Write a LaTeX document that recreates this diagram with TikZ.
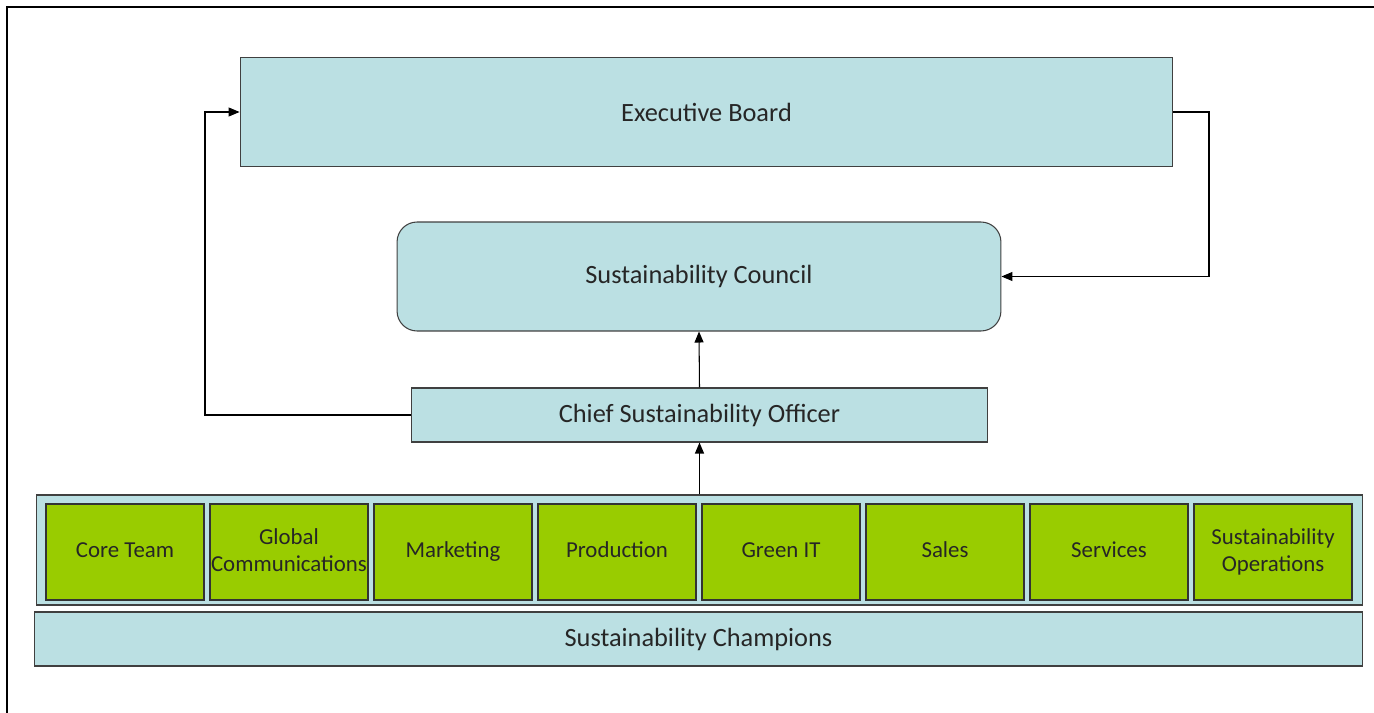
\documentclass[tikz,border=0pt]{standalone}
\usepackage{fontspec}
\setmainfont{Carlito}
\usetikzlibrary{arrows.meta,positioning}
\definecolor{paleblue}{HTML}{BBE0E3}
\definecolor{leafgreen}{HTML}{99CC00}

\begin{document}
\begin{tikzpicture}
    [
        x=0.02cm, y=-0.02cm,
        frameLine/.style={black,line width=1.6pt},
        bluebox/.style={draw=black!75,fill=paleblue,line width=0.6pt,text=black!85,
            font=\fontsize{15}{18}\selectfont,inner sep=0pt},
        greenbox/.style={draw=black!80,fill=leafgreen,line width=0.6pt,text=black!85,
            font=\fontsize{13}{15}\selectfont,align=center,inner sep=0pt,
            minimum width=3.16cm,minimum height=1.92cm},
        link/.style={black,line width=0.6pt,-{Triangle[length=0.22cm,width=0.18cm]}}
    ]
    \useasboundingbox (0,0) rectangle (1374,713);
    % frame of the screenshot
    \draw[frameLine] (7,713) -- (7,7) -- (1374,7);

    \node[bluebox, minimum width=18.66cm, minimum height=2.18cm] (board) at (706.5,112) {Executive Board};
    \node[bluebox, rounded corners=0.4cm, minimum width=12.08cm, minimum height=2.18cm] (council) at (699,276.5) {Sustainability Council};
    \node[bluebox, minimum width=11.54cm, minimum height=1.08cm] (cso) at (699.5,415) {Chief Sustainability Officer};
    \node[bluebox, minimum width=26.54cm, minimum height=2.2cm] (group) at (699.5,550) {};
    \node[bluebox, minimum width=26.58cm, minimum height=1.08cm] (champions) at (698.5,639) {Sustainability Champions};

    % departments
    \foreach \name/\txt [count=\k from 0] in {core/Core Team, global/Global\\Communications,
        marketing/Marketing, production/Production, greenit/Green IT, sales/Sales,
        services/Services, operations/Sustainability\\Operations}
    {
        \node[greenbox] (\name) at (125+164*\k,552) {\txt\vphantom{g}};
    }

    \coordinate (lbend) at (205,112);
    \coordinate (rbend) at (1209,112);

    \draw[link] (group.north) -- (cso.south);
    \draw[link] (cso.north) -- (council.south);
    \draw[link] (cso.west) -| (lbend) -- (board.west);
    \draw[link] (board.east) -- (rbend) |- (council.east);
\end{tikzpicture}
\end{document}
